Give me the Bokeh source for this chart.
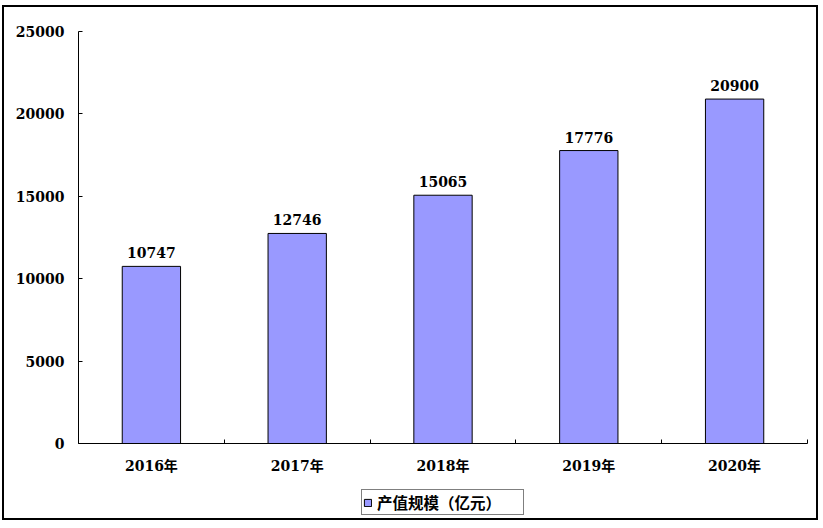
from bokeh.plotting import figure
from bokeh.layouts import column
from bokeh.models import FixedTicker, Legend, LegendItem, ColumnDataSource
from bokeh.core.properties import value
from bokeh.embed import file_html
from bokeh.resources import INLINE

categories = ["2016年", "2017年", "2018年", "2019年", "2020年"]
values = [10747, 12746, 15065, 17776, 20900]
y_ticks = [0, 5000, 10000, 15000, 20000, 25000]
series_name = "产值规模（亿元）"

FONT = "DejaVu Serif, Noto Sans CJK SC, serif"
CJK = "Noto Sans CJK SC, DejaVu Serif, sans-serif"
BAR_FILL = "#9999FF"

xpos = [i + 0.5 for i in range(len(categories))]
src = ColumnDataSource(dict(x=xpos, top=values, lab=[str(v) for v in values]))

W = 812
p = figure(width=W, height=473, output_backend="svg", toolbar_location=None,
           x_range=(0, len(categories)), y_range=(0, 25000),
           min_border_left=74, min_border_top=24, min_border_right=9, min_border_bottom=37)
p.outline_line_color = None
p.grid.visible = False

bars = p.vbar(x="x", top="top", width=0.4, source=src, fill_color=BAR_FILL,
              line_color="black", line_width=1)
p.text(x="x", y="top", text="lab", source=src, text_align="center", text_baseline="bottom",
       y_offset=-8, text_font=value(FONT), text_font_style="bold", text_font_size="14px",
       text_color="black")

p.yaxis.ticker = FixedTicker(ticks=y_ticks)
p.yaxis.major_tick_in = 4
p.yaxis.major_tick_out = 0
p.yaxis.minor_tick_line_color = None
p.yaxis.axis_line_color = "black"
p.yaxis.major_label_text_color = "black"
p.yaxis.major_label_text_font = FONT
p.yaxis.major_label_text_font_style = "bold"
p.yaxis.major_label_text_font_size = "14px"
p.yaxis.major_label_standoff = 14

p.xaxis.ticker = FixedTicker(ticks=xpos, minor_ticks=list(range(len(categories) + 1)))
p.xaxis.major_label_overrides = {x: c for x, c in zip(xpos, categories)}
p.xaxis.major_tick_in = 0
p.xaxis.major_tick_out = 0
p.xaxis.minor_tick_in = 4
p.xaxis.minor_tick_out = 0
p.xaxis.minor_tick_line_color = "black"
p.xaxis.axis_line_color = "black"
p.xaxis.major_label_text_color = "black"
p.xaxis.major_label_text_font = FONT
p.xaxis.major_label_text_font_style = "bold"
p.xaxis.major_label_text_font_size = "14px"
p.xaxis.major_label_standoff = 14

# legend strip below the chart (no axes)
p2 = figure(width=W, height=38, output_backend="svg", toolbar_location=None,
            x_range=(0, 1), y_range=(0, 1), min_border=0,
            x_axis_type=None, y_axis_type=None)
p2.grid.visible = False
p2.outline_line_color = None
# legend key renderer placed below the visible range; only its legend swatch shows
key = p2.vbar(x=[0.5], top=[-5], bottom=[-6], width=0.1,
              fill_color=BAR_FILL, line_color="black", line_width=1)

legend = Legend(items=[LegendItem(label=series_name, renderers=[key])],
                location=(283, 3), orientation="horizontal")
legend.border_line_color = "black"
legend.border_line_width = 1.5
legend.background_fill_alpha = 1
legend.glyph_width = 9
legend.glyph_height = 9
legend.label_standoff = 5
legend.padding = 1
legend.margin = 0
legend.label_width = 145
legend.label_text_font = CJK
legend.label_text_font_size = "15.5px"
legend.label_text_font_style = "bold"
legend.label_text_color = "black"
legend.label_height = 14
legend.spacing = 0
p2.add_layout(legend, "center")

layout = column(p, p2, spacing=0, margin=(5, 0, 0, 2),
                styles={"border": "2px solid black"})

open("out.html", "w").write(file_html(layout, INLINE))
